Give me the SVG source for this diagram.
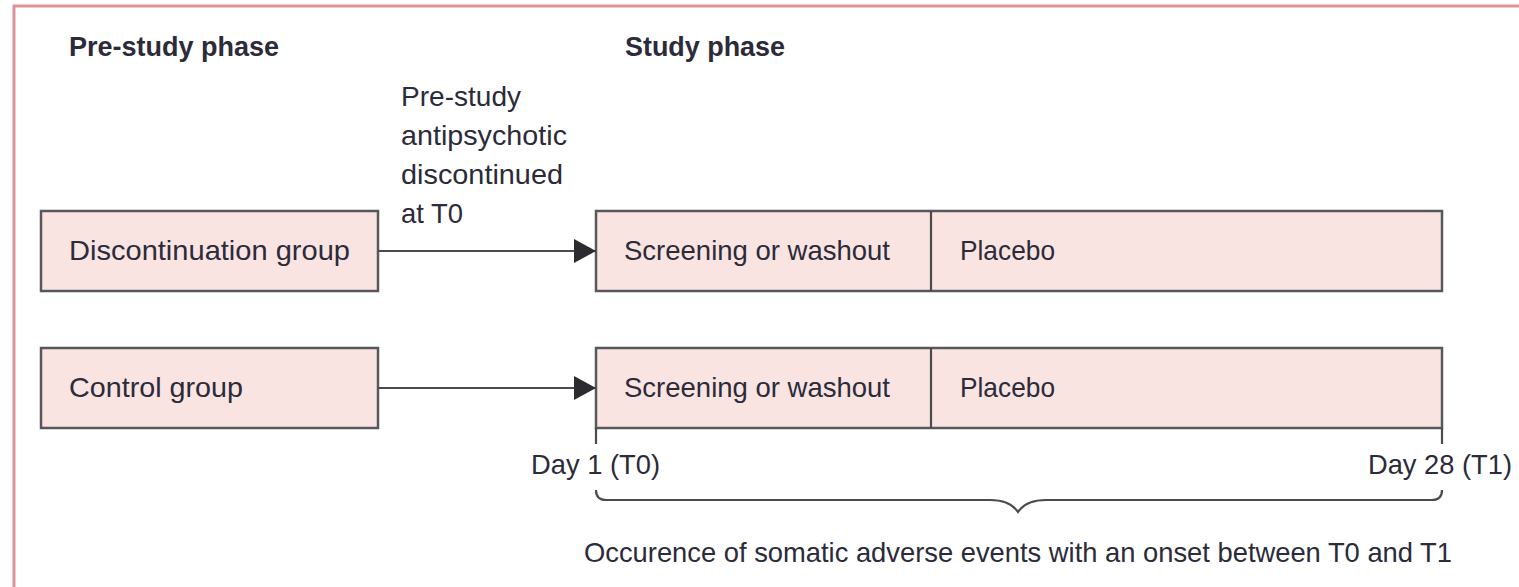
<svg xmlns="http://www.w3.org/2000/svg" width="1519" height="587" viewBox="0 0 1519 587">
<style>
text{font-family:"Liberation Sans","DejaVu Sans",sans-serif;fill:#2b2b3a;font-size:28px}
.h{font-weight:bold;font-size:27px}
.box{fill:#f9e4e2;stroke:#58585c;stroke-width:2.5}
.ln{fill:none;stroke:#4a4a50;stroke-width:2.2}
</style>
<defs>
<marker id="a2" viewBox="0 0 22 24" refX="22" refY="12" markerWidth="22" markerHeight="24" orient="auto" markerUnits="userSpaceOnUse">
<path d="M0,0 L22,12 L0,24 Z" fill="#2b2b30"/>
</marker>
</defs>
<rect x="14" y="6" width="1520" height="600" fill="none" stroke="#e0929c" stroke-width="3"/>
<g id="headers">
<text class="h" x="69" y="56" textLength="210" lengthAdjust="spacingAndGlyphs">Pre-study phase</text>
<text class="h" x="625" y="56" textLength="160" lengthAdjust="spacingAndGlyphs">Study phase</text>
</g>
<g id="disc">
<rect class="box" x="41" y="211" width="337" height="80"/>
<text x="69" y="260" textLength="281" lengthAdjust="spacingAndGlyphs">Discontinuation group</text>
</g>
<g id="ctrl">
<rect class="box" x="41" y="348" width="337" height="80"/>
<text x="69" y="397" textLength="174" lengthAdjust="spacingAndGlyphs">Control group</text>
</g>
<g id="study1">
<rect class="box" x="596" y="211" width="846" height="80"/>
<line class="ln" x1="931" y1="211" x2="931" y2="291"/>
<text x="624" y="260" textLength="266" lengthAdjust="spacingAndGlyphs">Screening or washout</text>
<text x="960" y="260" textLength="95" lengthAdjust="spacingAndGlyphs">Placebo</text>
</g>
<g id="study2">
<rect class="box" x="596" y="348" width="846" height="80"/>
<line class="ln" x1="931" y1="348" x2="931" y2="428"/>
<text x="624" y="397" textLength="266" lengthAdjust="spacingAndGlyphs">Screening or washout</text>
<text x="960" y="397" textLength="95" lengthAdjust="spacingAndGlyphs">Placebo</text>
</g>
<g id="connectors">
<line class="ln" x1="378" y1="251" x2="596" y2="251" marker-end="url(#a2)"/>
<line class="ln" x1="378" y1="388" x2="596" y2="388" marker-end="url(#a2)"/>
<line class="ln" x1="596" y1="428" x2="596" y2="444"/>
<line class="ln" x1="1442" y1="428" x2="1442" y2="444"/>
<path class="ln" d="M596,490 Q596,500 606,500 L990,500 Q1010,500 1018,512 Q1026,500 1046,500 L1432,500 Q1442,500 1442,490"/>
</g>
<g id="label-disc">
<text x="401" y="106" textLength="120" lengthAdjust="spacingAndGlyphs">Pre-study</text>
<text x="401" y="145" textLength="166" lengthAdjust="spacingAndGlyphs">antipsychotic</text>
<text x="401" y="184" textLength="162" lengthAdjust="spacingAndGlyphs">discontinued</text>
<text x="401" y="223" textLength="62" lengthAdjust="spacingAndGlyphs">at T0</text>
</g>
<g id="labels">
<text x="531" y="474" textLength="129" lengthAdjust="spacingAndGlyphs">Day 1 (T0)</text>
<text x="1368" y="474" textLength="144" lengthAdjust="spacingAndGlyphs">Day 28 (T1)</text>
<text x="584" y="562" textLength="868" lengthAdjust="spacingAndGlyphs">Occurence of somatic adverse events with an onset between T0 and T1</text>
</g>
</svg>
